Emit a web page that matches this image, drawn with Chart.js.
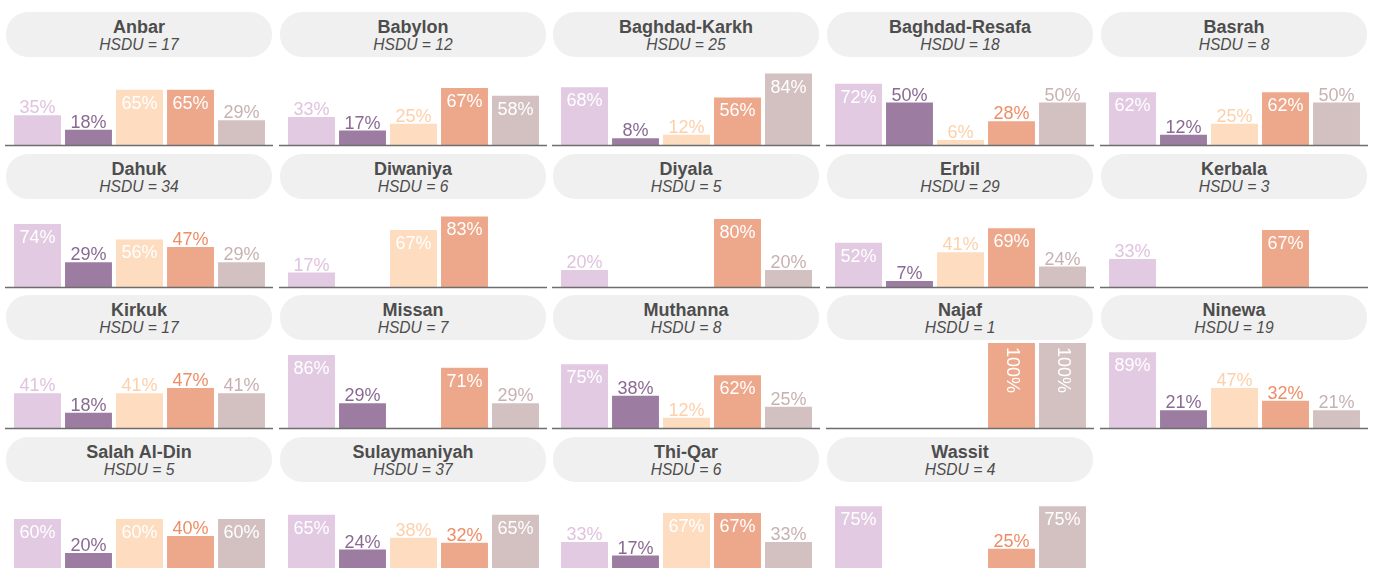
<!DOCTYPE html>
<html>
<head>
<meta charset="utf-8">
<script src="https://cdn.jsdelivr.net/npm/chart.js@4.4.1/dist/chart.umd.min.js"></script>
<style>
  html, body { margin: 0; padding: 0; background: #fff; overflow: hidden; }
  body { width: 1375px; height: 568px; position: relative; font-family: "Liberation Sans", Arial, sans-serif; }
  .panel { position: absolute; width: 268px; }
  .head {
    margin-left: 1px; width: 266px; height: 45px; box-sizing: border-box;
    padding-top: 6px; background: #f0f0f0; border-radius: 22px; text-align: center; color: #4d4d4d;
  }
  .head .name { font-weight: bold; font-size: 18px; line-height: 18px; }
  .head .sub { font-style: italic; font-size: 15.6px; line-height: 17px; }
  .panel canvas { display: block; }
</style>
</head>
<body>
<div id="grid"></div>
<script>
const regions = ['Anbar', 'Babylon', 'Baghdad-Karkh', 'Baghdad-Resafa', 'Basrah',
  'Dahuk', 'Diwaniya', 'Diyala', 'Erbil', 'Kerbala',
  'Kirkuk', 'Missan', 'Muthanna', 'Najaf', 'Ninewa',
  'Salah Al-Din', 'Sulaymaniyah', 'Thi-Qar', 'Wassit'];
const hsdu = [17, 12, 25, 18, 8, 34, 6, 5, 29, 3, 17, 7, 8, 1, 19, 5, 37, 6, 4];

const categories = ['Group 1', 'Group 2', 'Group 3', 'Group 4', 'Group 5'];
const group1 = [35, 33, 68, 72, 62, 74, 17, 20, 52, 33, 41, 86, 75, null, 89, 60, 65, 33, 75];
const group2 = [18, 17, 8, 50, 12, 29, null, null, 7, null, 18, 29, 38, null, 21, 20, 24, 17, null];
const group3 = [65, 25, 12, 6, 25, 56, 67, null, 41, null, 41, null, 12, null, 47, 60, 38, 67, null];
const group4 = [65, 67, 56, 28, 62, 47, 83, 80, 69, 67, 47, 71, 62, 100, 32, 40, 32, 67, 25];
const group5 = [29, 58, 84, 50, 50, 29, null, 20, 24, null, 41, 29, 25, 100, 21, 60, 65, 33, 75];

const barColors = ['#e2cae2', '#9d7ca1', '#fddcbf', '#eda78a', '#d3c0c0'];
const labelColors = ['#e0c3df', '#8a6a93', '#fdd0aa', '#ee8c66', '#c8b1b1'];

const labelFont = '18px "Liberation Sans", Arial, sans-serif';

// value labels: white inside tall bars, coloured above short ones
const valueLabels = {
  id: 'valueLabels',
  afterDatasetsDraw(chart) {
    const ctx = chart.ctx;
    const meta = chart.getDatasetMeta(0);
    const values = chart.data.datasets[0].data;
    ctx.save();
    ctx.font = labelFont;
    meta.data.forEach((bar, i) => {
      const v = values[i];
      if (v === null || v === undefined) return;
      const text = v + '%';
      const w = ctx.measureText(text).width;
      if (v > 50) {
        ctx.fillStyle = '#ffffff';
        if (w > bar.width - 4) {
          ctx.translate(bar.x, bar.y + 4);
          ctx.rotate(Math.PI / 2);
          ctx.textAlign = 'left';
          ctx.textBaseline = 'middle';
          ctx.fillText(text, 0, 0);
          ctx.setTransform(1, 0, 0, 1, 0, 0);
        } else {
          ctx.textAlign = 'center';
          ctx.textBaseline = 'alphabetic';
          ctx.fillText(text, bar.x, bar.y + 19);
        }
      } else {
        ctx.fillStyle = labelColors[i];
        ctx.textAlign = 'center';
        ctx.textBaseline = 'alphabetic';
        ctx.fillText(text, bar.x, bar.y - 2);
      }
    });
    ctx.restore();
  },
};

// baseline across the whole panel width
const baseline = {
  id: 'baseline',
  afterDatasetsDraw(chart) {
    const ctx = chart.ctx;
    const y = Math.round(chart.scales.y.getPixelForValue(0)) + 0.5;
    ctx.save();
    ctx.strokeStyle = '#6e6e6e';
    ctx.lineWidth = 1.3;
    ctx.beginPath();
    ctx.moveTo(0, y);
    ctx.lineTo(chart.width, y);
    ctx.stroke();
    ctx.restore();
  },
};

function buildPanel(idx) {
  const row = Math.floor(idx / 5);
  const col = idx % 5;
  const panel = document.createElement('div');
  panel.className = 'panel';
  panel.style.left = Math.round(5 + 273.7 * col) + 'px';
  panel.style.top = Math.round(12 + 141.7 * row) + 'px';
  panel.innerHTML = `<div class="head"><div class="name">${regions[idx]}</div>` +
    `<div class="sub">HSDU = ${hsdu[idx]}</div></div>`;
  const canvas = document.createElement('canvas');
  canvas.width = 268;
  canvas.height = 90;
  panel.appendChild(canvas);
  document.getElementById('grid').appendChild(panel);

  const values = [group1[idx], group2[idx], group3[idx], group4[idx], group5[idx]];
  new Chart(canvas, {
    type: 'bar',
    data: {
      labels: categories,
      datasets: [{
        data: values,
        backgroundColor: barColors,
        borderWidth: 0,
        barPercentage: 0.92,
        categoryPercentage: 1,
      }],
    },
    options: {
      responsive: false,
      animation: false,
      events: [],
      layout: { padding: { top: 3, bottom: 2, left: 7, right: 6 } },
      scales: {
        x: { display: false },
        y: { display: false, min: 0, max: 100 },
      },
      plugins: {
        legend: { display: false },
        tooltip: { enabled: false },
      },
    },
    plugins: [baseline, valueLabels],
  });
}

regions.forEach((_, i) => buildPanel(i));
</script>
</body>
</html>
